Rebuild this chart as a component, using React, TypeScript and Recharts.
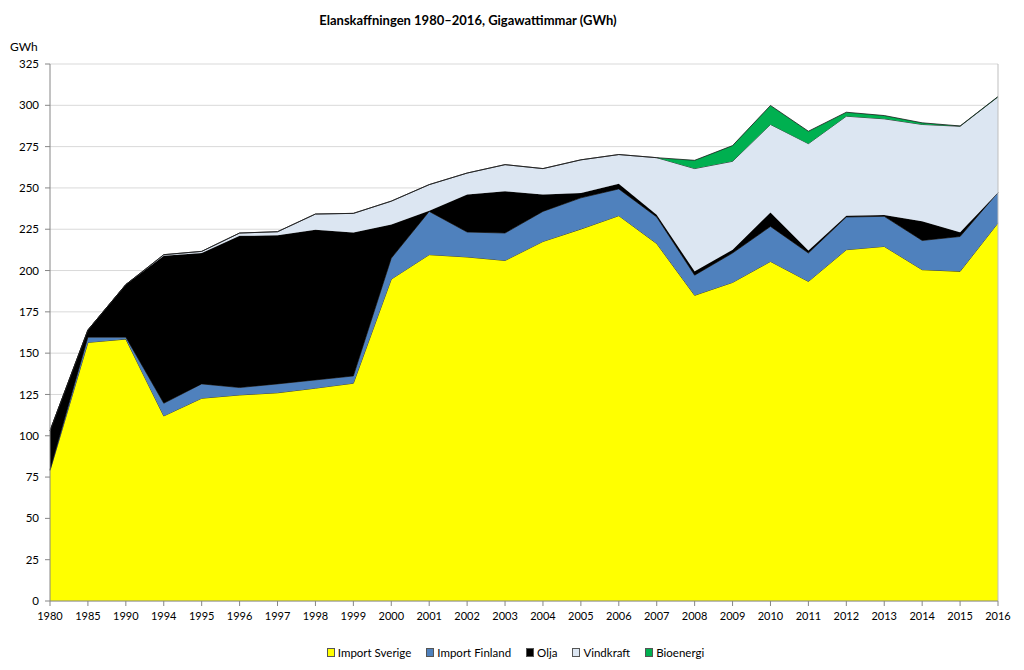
import { Area, AreaChart, CartesianGrid, ReferenceLine, XAxis, YAxis } from "recharts";

const years = [
    "1980", "1985", "1990", "1994", "1995", "1996", "1997", "1998", "1999", "2000",
    "2001", "2002", "2003", "2004", "2005", "2006", "2007", "2008", "2009", "2010",
    "2011", "2012", "2013", "2014", "2015", "2016",
];

const importSverige = [
    79, 156.5, 158.5, 112, 122.7, 124.7, 126, 128.8, 131.8, 194.8,
    209.6, 208.2, 206.1, 217.6, 225.1, 233.2, 216.3, 185, 192.8, 205.5,
    193.4, 212.6, 214.6, 200.5, 199.5, 228.8,
];
const importFinland = [
    0.5, 3.2, 1.2, 7.7, 8.7, 4.5, 5.4, 5, 4.4, 12.7,
    26.2, 15.1, 16.6, 18.2, 18.9, 16.2, 16.1, 12.2, 17.8, 21.2,
    17.2, 19.8, 18.2, 17.7, 21.1, 18.5,
];
const olja = [
    23.5, 4.3, 31.8, 89.3, 79.2, 91.8, 89.9, 90.9, 86.8, 20.3,
    0.4, 22.7, 25.3, 10.2, 3, 3.2, 1.4, 2.3, 2, 8.5,
    1.6, 0.8, 0.8, 11.6, 2.5, 0,
];
const vindkraft = [
    0, 0, 0, 0.6, 1, 1.7, 2.2, 9.5, 11.6, 14.2,
    15.8, 13, 16.1, 15.7, 20, 17.6, 34.5, 62.2, 53.5, 53.2,
    64.6, 60.2, 58.2, 58.6, 64.2, 57.8,
];
const bioenergi = [
    0, 0, 0, 0, 0, 0, 0, 0, 0, 0,
    0, 0, 0, 0, 0, 0, 0, 5, 9.5, 11.5,
    7.5, 2.4, 2, 1, 0.2, 0.2,
];

const yTicks = [0, 25, 50, 75, 100, 125, 150, 175, 200, 225, 250, 275, 300, 325];

const series = [
    { key: "Import Sverige", values: importSverige, color: "#FFFF00" },
    { key: "Import Finland", values: importFinland, color: "#4F81BD" },
    { key: "Olja", values: olja, color: "#000000" },
    { key: "Vindkraft", values: vindkraft, color: "#DCE6F2" },
    { key: "Bioenergi", values: bioenergi, color: "#00B050" },
];

const data = years.map((year, i) => {
    const row: Record<string, string | number> = { year };
    series.forEach((s) => {
        row[s.key] = s.values[i];
    });
    return row;
});

const font = "Lato, 'Open Sans', sans-serif";

export default function App() {
    return (
        <div
            style={{
                position: "absolute",
                left: 0,
                top: 0,
                width: 1024,
                height: 670,
                background: "#fff",
                fontFamily: font,
                color: "#000",
            }}
        >
            <div
                style={{
                    position: "absolute",
                    top: 12,
                    left: 0,
                    width: 936,
                    textAlign: "center",
                    fontSize: 13,
                    fontWeight: 700,
                }}
            >
                Elanskaffningen 1980–2016, Gigawattimmar (GWh)
            </div>
            <div style={{ position: "absolute", top: 39, left: 10, fontSize: 12 }}>GWh</div>

            <AreaChart
                width={1024}
                height={670}
                data={data}
                margin={{ top: 64, right: 26, bottom: 39, left: 0 }}
            >
                <CartesianGrid vertical={false} stroke="#D9D9D9" />
                <XAxis
                    dataKey="year"
                    interval={0}
                    height={30}
                    stroke="#868686"
                    tickSize={5}
                    tickMargin={6}
                    tick={{ fontSize: 11, fill: "#000", fontFamily: font }}
                />
                <YAxis
                    width={50}
                    domain={[0, 325]}
                    ticks={yTicks}
                    interval={0}
                    stroke="#868686"
                    tickSize={5}
                    tickMargin={6}
                    tick={{ fontSize: 11.5, fill: "#000", fontFamily: font }}
                />
                {series.map((s) => (
                    <Area
                        key={s.key}
                        type="linear"
                        dataKey={s.key}
                        stackId="total"
                        fill={s.color}
                        fillOpacity={1}
                        stroke="#1a1a1a"
                        strokeWidth={0.8}
                        dot={false}
                        activeDot={false}
                        isAnimationActive={false}
                    />
                ))}
                <ReferenceLine x="2016" stroke="#BFBFBF" />
            </AreaChart>

            <div
                style={{
                    position: "absolute",
                    top: 646,
                    left: 0,
                    width: 1031,
                    display: "flex",
                    justifyContent: "center",
                    gap: 15,
                    fontSize: 11.5,
                }}
            >
                {series.map((s) => (
                    <div key={s.key} style={{ display: "flex", alignItems: "center", gap: 3 }}>
                        <span
                            style={{
                                display: "inline-block",
                                width: 6,
                                height: 7,
                                background: s.color,
                                border: "1px solid #555",
                            }}
                        />
                        <span>{s.key}</span>
                    </div>
                ))}
            </div>
        </div>
    );
}
